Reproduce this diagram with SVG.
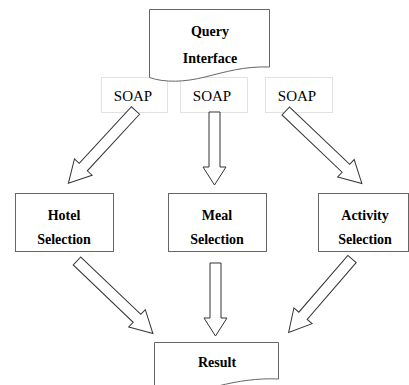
<svg xmlns="http://www.w3.org/2000/svg" width="409" height="385" viewBox="0 0 409 385">
  <style>
    .node { fill: #ffffff; stroke: #666666; stroke-width: 1; }
    .soap { fill: #ffffff; stroke: #e2e2e2; stroke-width: 1; }
    .label { font-family: 'Liberation Serif', 'DejaVu Serif', serif; font-size: 14px; font-weight: bold; fill: #000000; text-anchor: middle; }
    .soaptext { font-family: 'Liberation Serif', 'DejaVu Serif', serif; font-size: 15px; fill: #000000; text-anchor: middle; }
    .arrow { fill: #ffffff; stroke: #333333; stroke-width: 1; stroke-linejoin: miter; }
  </style>
  <rect width="409" height="385" fill="#ffffff"/>

  <!-- SOAP labels -->
  <g id="soap1">
    <rect class="soap" x="101.5" y="77.5" width="66" height="35"/>
    <text class="soaptext" x="133" y="101">SOAP</text>
  </g>
  <g id="soap2">
    <rect class="soap" x="180.5" y="77.5" width="67" height="35"/>
    <text class="soaptext" x="212" y="101">SOAP</text>
  </g>
  <g id="soap3">
    <rect class="soap" x="265.5" y="77.5" width="67" height="35"/>
    <text class="soaptext" x="297" y="101">SOAP</text>
  </g>

  <!-- Query Interface (document shape) -->
  <g id="query">
    <path class="node" d="M149.5,9.5 H269.5 V67 C245,66 225,72 205,77 S165,83 149.5,77.5 Z"/>
    <text class="label" x="210" y="36">Query</text>
    <text class="label" x="210" y="63">Interface</text>
  </g>

  <!-- Selection nodes -->
  <g id="hotel">
    <rect class="node" x="15.5" y="193.5" width="98" height="58"/>
    <text class="label" x="64" y="220">Hotel</text>
    <text class="label" x="64" y="244">Selection</text>
  </g>
  <g id="meal">
    <rect class="node" x="168.5" y="193.5" width="98" height="58"/>
    <text class="label" x="217" y="220">Meal</text>
    <text class="label" x="217" y="244">Selection</text>
  </g>
  <g id="activity">
    <rect class="node" x="318.5" y="193.5" width="90" height="58"/>
    <text class="label" x="365" y="220">Activity</text>
    <text class="label" x="365" y="244">Selection</text>
  </g>

  <!-- Result (document shape) -->
  <g id="result">
    <path class="node" d="M154.5,342.5 H278.5 V379 C258,378 238,381 218,386 S172,393 154.5,390 Z"/>
    <text class="label" x="217" y="367">Result</text>
  </g>

  <!-- Block arrows -->
  <g id="connectors">
    <path class="arrow" d="M0,-5.5 H77 V-12 L99,0 L77,12 V5.5 H0 Z" transform="translate(135.5,110.5) rotate(132.7)"/>
    <path class="arrow" d="M0,-5.5 H55 V-11.5 L73,0 L55,11.5 V5.5 H0 Z" transform="translate(214.5,112) rotate(90)"/>
    <path class="arrow" d="M0,-5.5 H83 V-12 L105,0 L83,12 V5.5 H0 Z" transform="translate(285.8,111) rotate(43.6)"/>
    <path class="arrow" d="M0,-5.5 H83 V-12 L105,0 L83,12 V5.5 H0 Z" transform="translate(77,261) rotate(43.7)"/>
    <path class="arrow" d="M0,-5.5 H55 V-11.5 L73,0 L55,11.5 V5.5 H0 Z" transform="translate(215.5,263) rotate(90)"/>
    <path class="arrow" d="M0,-5.5 H75 V-12 L97,0 L75,12 V5.5 H0 Z" transform="translate(352,259) rotate(130.8)"/>
  </g>
</svg>
